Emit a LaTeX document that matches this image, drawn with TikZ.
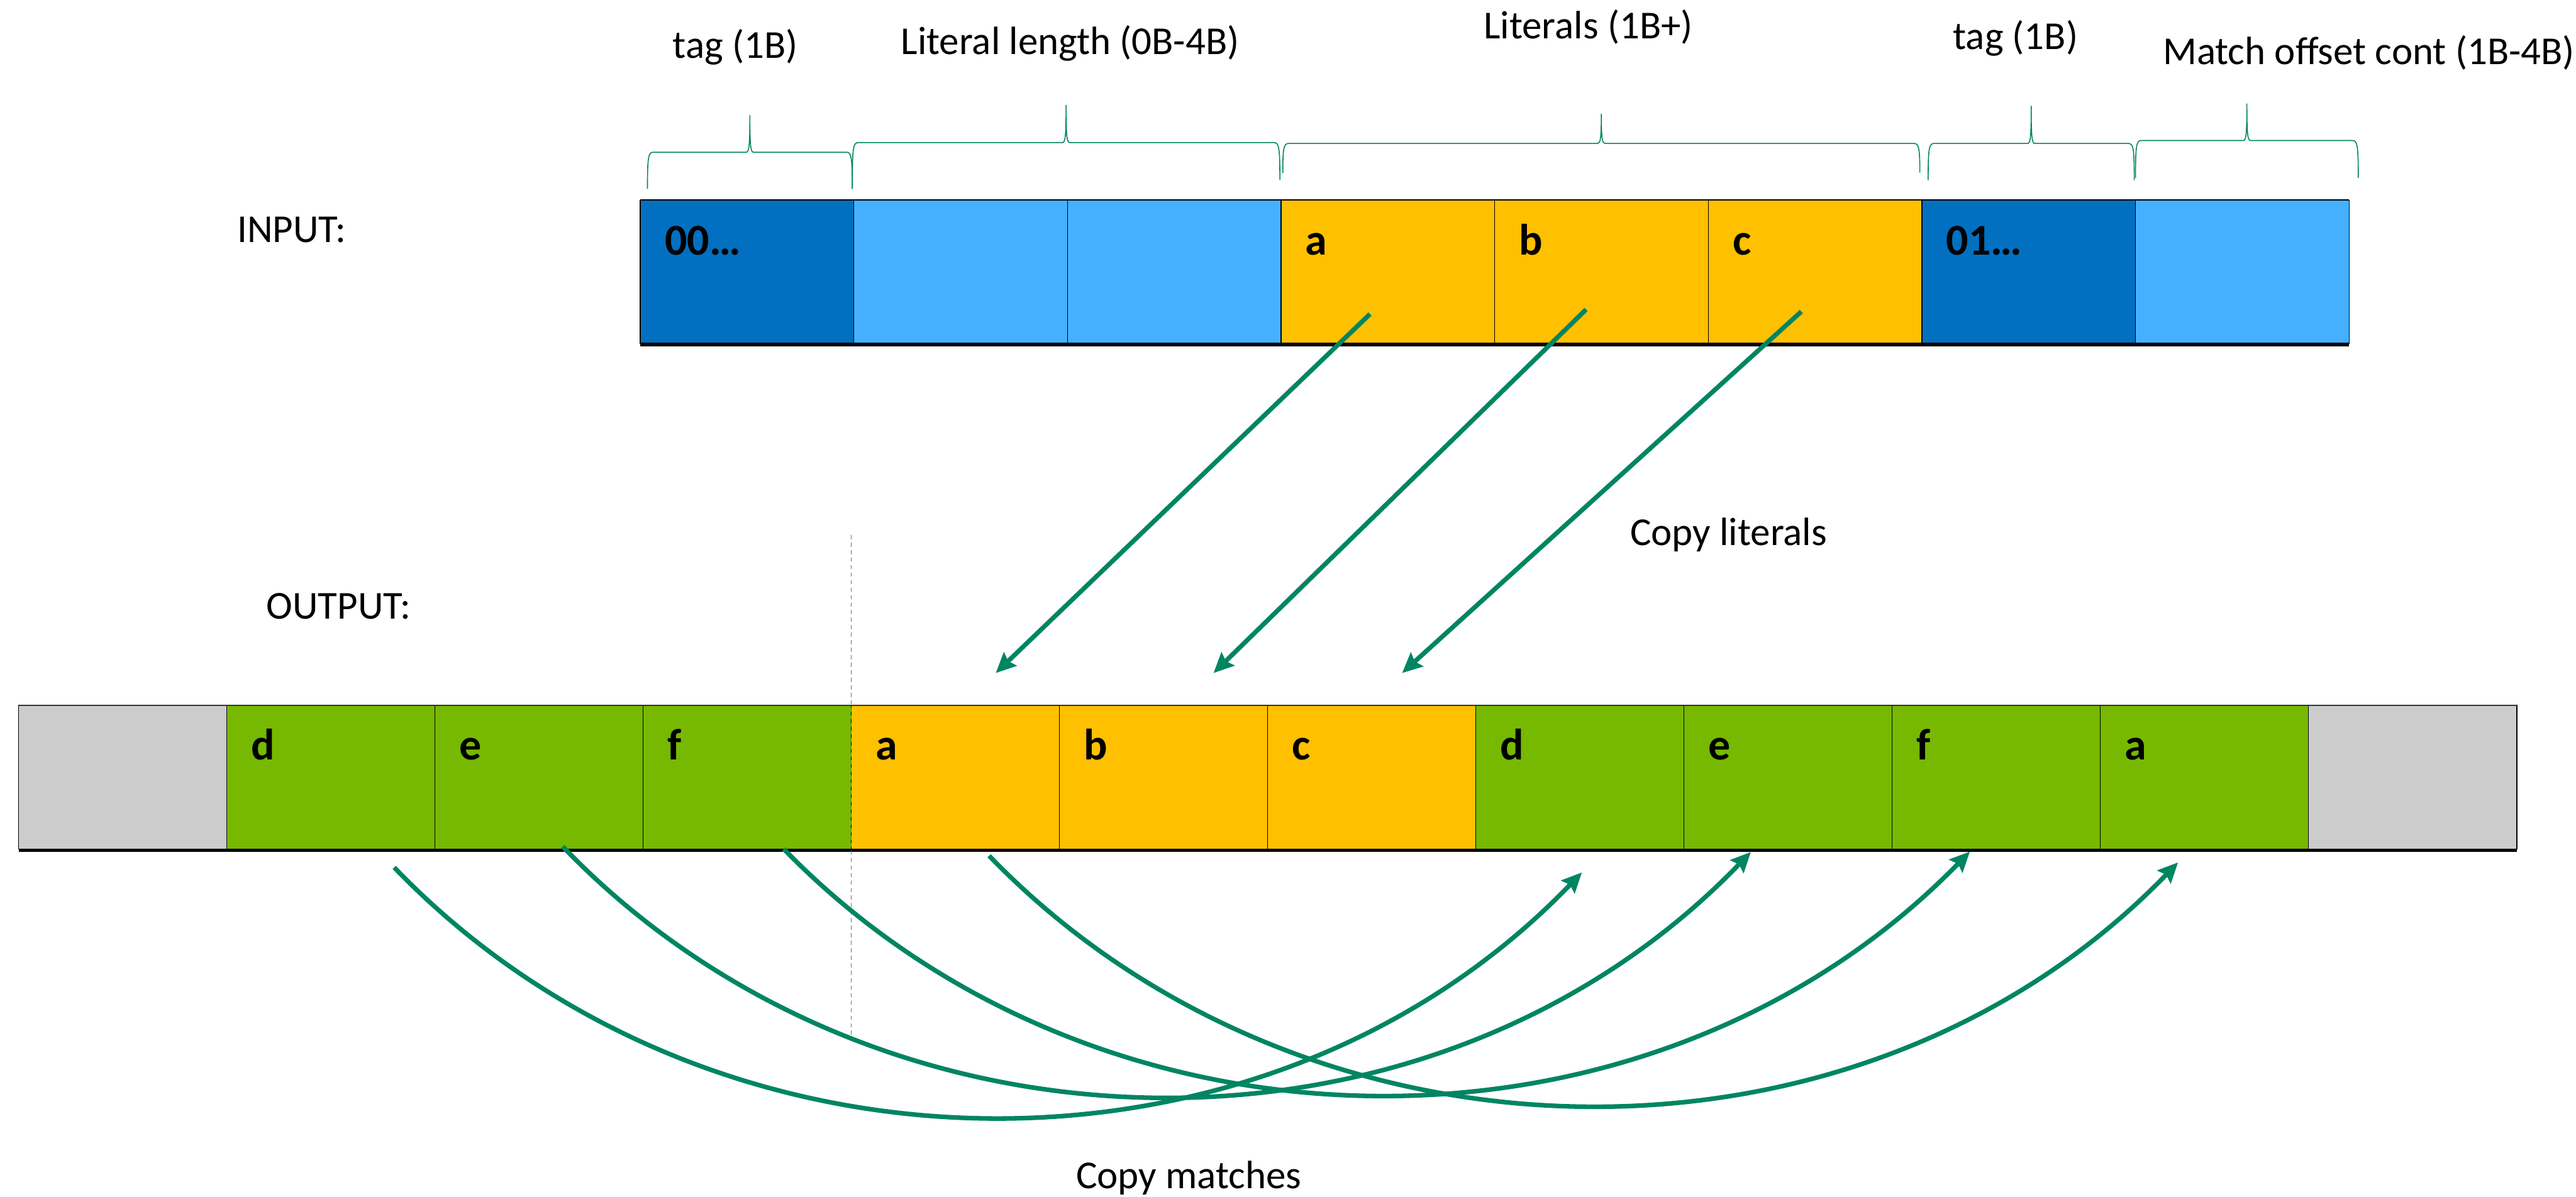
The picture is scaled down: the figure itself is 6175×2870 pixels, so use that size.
\documentclass[tikz,border=0pt]{standalone}
\usepackage{fontspec}
\setmainfont{Carlito}
\usetikzlibrary{arrows.meta,calc}
\definecolor{arrowgreen}{RGB}{0,133,98}
\definecolor{dblue}{RGB}{2,112,192}
\definecolor{lblue}{RGB}{69,176,255}
\definecolor{lityellow}{RGB}{255,192,0}
\definecolor{matchgreen}{RGB}{118,185,0}
\definecolor{padgray}{RGB}{204,204,204}
\begin{document}
\begin{tikzpicture}[x=0.01cm,y=-0.01cm,
  incell/.style={draw=black, line width=0.02cm, inner sep=0pt, outer sep=0pt, minimum width=5.12cm, minimum height=3.43cm},
  outcell/.style={draw=black, line width=0.02cm, inner sep=0pt, outer sep=0pt, minimum width=4.99cm, minimum height=3.45cm},
  lbl/.style={font=\fontsize{30pt}{36pt}\selectfont\bfseries, anchor=base west, inner sep=0pt},
  txt/.style={font=\fontsize{27pt}{32pt}\selectfont, anchor=base west, inner sep=0pt},
  arr/.style={draw=arrowgreen, line width=0.11cm, -{Stealth[length=0.48cm,width=0.44cm,inset=0.07cm]}},
  bracestyle/.style={draw=arrowgreen, line width=0.024cm},
  rowbottom/.style={line width=0.08cm, black},
  rowtop/.style={line width=0.03cm, black}]
\useasboundingbox (0,0) rectangle (6175,2870);

% ---------- input row ----------
\foreach \i/\col in {1/dblue,2/lblue,3/lblue,4/lityellow,5/lityellow,6/lityellow,7/dblue,8/lblue}
  \node[incell, fill=\col] (in\i) at ({1535+512*(\i-0.5)}, 651.5) {};
\draw[rowtop] (in1.north west) -- (in8.north east);
\draw[rowbottom] ($(in1.south west)+(0,3)$) -- ($(in8.south east)+(0,3)$);

\node[lbl] (inl1) at ($(in1.north west)+(58,131)$) {00…};
\node[lbl] (inl4) at ($(in4.north west)+(58,131)$) {a};
\node[lbl] (inl5) at ($(in5.north west)+(58,131)$) {b};
\node[lbl] (inl6) at ($(in6.north west)+(58,131)$) {c};
\node[lbl] (inl7) at ($(in7.north west)+(58,131)$) {01…};

% ---------- output row ----------
\foreach \j/\col in {1/padgray,2/matchgreen,3/matchgreen,4/matchgreen,5/lityellow,6/lityellow,7/lityellow,8/matchgreen,9/matchgreen,10/matchgreen,11/matchgreen,12/padgray}
  \node[outcell, fill=\col] (out\j) at ({45+499*(\j-0.5)}, 1863.5) {};
\draw[rowtop, black!80] (out1.north west) -- (out12.north east);
\draw[rowbottom] ($(out1.south west)+(0,3)$) -- ($(out12.south east)+(0,3)$);

\node[lbl] (outl2) at ($(out2.north west)+(58,131)$) {d};
\node[lbl] (outl3) at ($(out3.north west)+(58,131)$) {e};
\node[lbl] (outl4) at ($(out4.north west)+(58,131)$) {f};
\node[lbl] (outl5) at ($(out5.north west)+(58,131)$) {a};
\node[lbl] (outl6) at ($(out6.north west)+(58,131)$) {b};
\node[lbl] (outl7) at ($(out7.north west)+(58,131)$) {c};
\node[lbl] (outl8) at ($(out8.north west)+(58,131)$) {d};
\node[lbl] (outl9) at ($(out9.north west)+(58,131)$) {e};
\node[lbl] (outl10) at ($(out10.north west)+(58,131)$) {f};
\node[lbl] (outl11) at ($(out11.north west)+(58,131)$) {a};

% dashed separator
\coordinate (dtop) at ($(out5.north west)+(0,-408)$);
\coordinate (dbot) at ($(out5.south west)+(0,452)$);
\draw[black!55, line width=0.02cm, dash pattern=on 0.1cm off 0.08cm] (dtop) -- (dbot);

% ---------- texts ----------
\node[txt] (tinput) at (568,581) {INPUT:};
\node[txt] (toutput) at (638,1484) {OUTPUT:};
\node[txt] (ttag1) at (1612,140) {tag (1B)};
\node[txt] (tlitlen) at (2159,130) {Literal length (0B-4B)};
\node[txt] (tlits) at (3556,93) {Literals (1B+)};
\node[txt] (ttag2) at (4681,118) {tag (1B)};
\node[txt] (tmoff) at (5184,155) {Match offset cont (1B-4B)};
\node[txt] (tcopylit) at (3907,1308) {Copy literals};
\node[txt] (tcopymat) at (2579,2850) {Copy matches};

% ---------- braces ----------
% args: x1, yb1, x2, yb2, yh, yt
\foreach \xa/\ya/\xb/\yb/\yh/\yt in {1552/453/2043/453/365/276, 2043/453/3068/431/342/252, 3075/415/4602/414/344/273, 4622/432/5116/432/344/254, 5119/427/5653/427/337/248}{
  \pgfmathsetmacro{\xm}{(\xa+\xb)/2}
  \draw[bracestyle] (\xa,\ya) .. controls (\xa,\yh+12) and (\xa+2,\yh) .. (\xa+14,\yh)
    -- (\xm-9,\yh) .. controls (\xm-2,\yh) and (\xm,\yh-12) .. (\xm,\yt)
    .. controls (\xm,\yh-12) and (\xm+2,\yh) .. (\xm+9,\yh)
    -- (\xb-14,\yh) .. controls (\xb-2,\yh) and (\xb,\yh+12) .. (\xb,\yb);
}

% ---------- copy literals ----------
\draw[arr] ($(in4.south)+(-43,-70)$) -- ($(out5.north)+(96.5,-77)$);
\draw[arr] ($(in5.south)+(-37,-81)$) -- ($(out6.north)+(119.5,-77)$);
\draw[arr] ($(in6.south)+(-33,-76)$) -- ($(out7.north)+(72.5,-77)$);

% ---------- copy matches ----------
\draw[arr] ($(out2.south)+(151.5,44)$) .. controls +(760,790) and +(-760,790) .. ($(out8.south)+(4.5,56)$);
\draw[arr] ($(out3.south)+(56.5,-6)$) .. controls +(760,790) and +(-760,790) .. ($(out9.south)+(-89.5,7)$);
\draw[arr] ($(out4.south)+(87.5,0)$) .. controls +(760,781) and +(-760,781) .. ($(out10.south)+(-63.5,6)$);
\draw[arr] ($(out5.south)+(80.5,16)$) .. controls +(760,787) and +(-760,787) .. ($(out11.south)+(-63.5,32)$);
\end{tikzpicture}
\end{document}
